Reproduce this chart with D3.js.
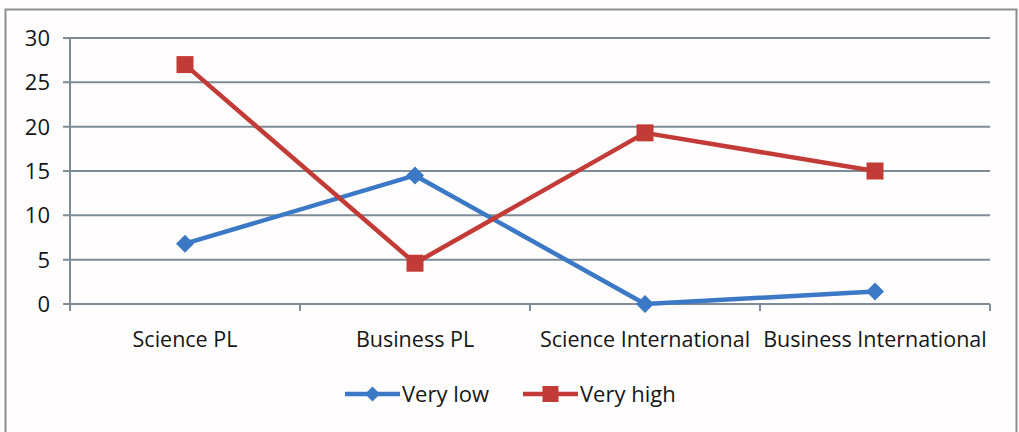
<!DOCTYPE html>
<html>
<head>
<meta charset="utf-8">
<script src="https://cdn.jsdelivr.net/npm/d3@7"></script>
<style>
  html, body { margin: 0; padding: 0; background: #fffdfd; }
  svg { display: block; }
  text { font-family: "Open Sans", "Noto Sans", sans-serif; fill: #161616; }
</style>
</head>
<body>
<svg id="chart" width="1019" height="432"></svg>
<script>
// Categories along the x axis
const categories = ["Science PL", "Business PL", "Science International", "Business International"];
// Series values
const veryLow  = [6.8, 14.5, 0, 1.4];
const veryHigh = [27, 4.6, 19.3, 15];
// Y axis ticks
const yTicks = [0, 5, 10, 15, 20, 25, 30];

const series = [
  { name: "Very low",  values: veryLow,  color: "#3b78c6", marker: "diamond" },
  { name: "Very high", values: veryHigh, color: "#c23b37", marker: "square" }
];

const svg = d3.select("#chart");
const W = 1019, H = 432;
const plot = { left: 70, right: 990, top: 38, bottom: 304 };

// outer frame
svg.append("rect").attr("x", 0).attr("y", 0).attr("width", W).attr("height", H).attr("fill", "#fffdfd");
svg.append("path")
  .attr("d", `M5.5,${H} V9.5 H1016.5 V${H}`)
  .attr("fill", "none").attr("stroke", "#8d8d8d").attr("stroke-width", 2);

const x = d3.scaleBand().domain(categories).range([plot.left, plot.right]).padding(0);
const y = d3.scaleLinear().domain([0, 30]).range([plot.bottom, plot.top]);

// horizontal gridlines
svg.append("g").selectAll("line").data(yTicks).join("line")
  .attr("x1", plot.left - 7).attr("x2", plot.right)
  .attr("y1", d => y(d)).attr("y2", d => y(d))
  .attr("stroke", "#7d8c96").attr("stroke-width", 2);

// y axis line
svg.append("line")
  .attr("x1", plot.left).attr("x2", plot.left)
  .attr("y1", plot.top).attr("y2", plot.bottom)
  .attr("stroke", "#7d8c96").attr("stroke-width", 2);

// y tick labels
svg.append("g").selectAll("text").data(yTicks).join("text")
  .attr("x", plot.left - 20).attr("y", d => y(d))
  .attr("dy", "0.36em").attr("text-anchor", "end")
  .attr("font-size", 22)
  .text(d => d);

// x axis tick marks at category boundaries
const bounds = categories.map(c => x(c)).concat([plot.right]);
svg.append("g").selectAll("line").data(bounds).join("line")
  .attr("x1", d => d).attr("x2", d => d)
  .attr("y1", plot.bottom).attr("y2", plot.bottom + 7)
  .attr("stroke", "#7d8c96").attr("stroke-width", 2);

// category labels
svg.append("g").selectAll("text").data(categories).join("text")
  .attr("x", d => x(d) + x.bandwidth() / 2).attr("y", 347)
  .attr("text-anchor", "middle").attr("font-size", 21.5)
  .text(d => d);

const cx = (i) => x(categories[i]) + x.bandwidth() / 2;
const line = d3.line().x((d, i) => cx(i)).y(d => y(d));

function drawMarker(g, type, px, py, color, s) {
  if (type === "diamond") {
    g.append("path")
      .attr("d", `M${px},${py - s} L${px + s},${py} L${px},${py + s} L${px - s},${py} Z`)
      .attr("fill", color);
  } else {
    g.append("rect")
      .attr("x", px - s).attr("y", py - s).attr("width", 2 * s).attr("height", 2 * s)
      .attr("fill", color);
  }
}

series.forEach(s => {
  const g = svg.append("g");
  g.append("path").datum(s.values)
    .attr("d", line).attr("fill", "none")
    .attr("stroke", s.color).attr("stroke-width", 4.5)
    .attr("stroke-linejoin", "round");
  s.values.forEach((v, i) => drawMarker(g, s.marker, cx(i), y(v), s.color, s.marker === "diamond" ? 9 : 8.5));
});

// legend
const legendItems = [
  { s: series[0], x0: 345 },
  { s: series[1], x0: 523 }
];
const ly = 394;
legendItems.forEach(({ s, x0 }) => {
  const g = svg.append("g");
  g.append("line").attr("x1", x0).attr("x2", x0 + 55).attr("y1", ly).attr("y2", ly)
    .attr("stroke", s.color).attr("stroke-width", 4.5);
  drawMarker(g, s.marker, x0 + 27.5, ly, s.color, s.marker === "diamond" ? 7.5 : 8);
  g.append("text").attr("x", x0 + 57).attr("y", ly).attr("dy", "0.36em")
    .attr("font-size", 22).text(s.name);
});
</script>
</body>
</html>
